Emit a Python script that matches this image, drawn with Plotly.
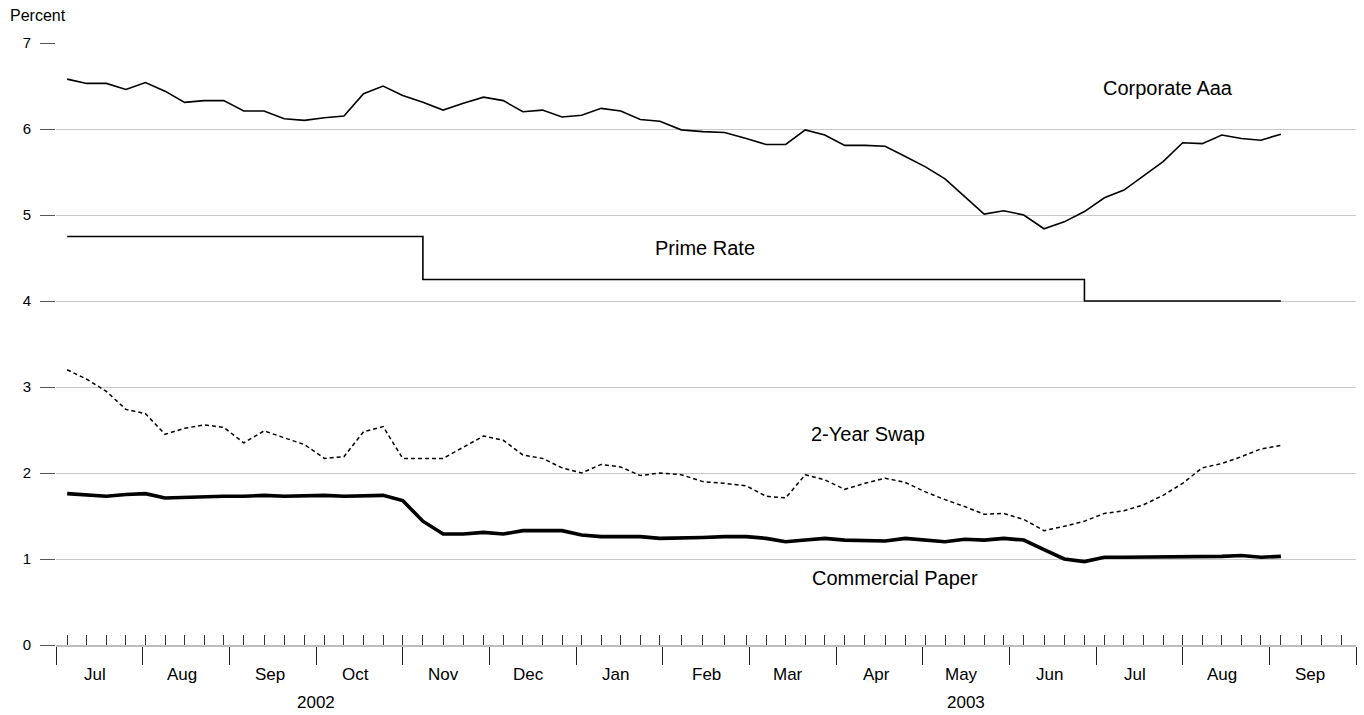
import calendar
import pandas as pd
import plotly.graph_objects as go

# ---------------- data ----------------
week_ends = pd.date_range("2002-07-05", "2003-09-05", freq="W-FRI")

corporate_aaa = [
    6.58, 6.53, 6.53, 6.46,
    6.54, 6.44, 6.31, 6.33, 6.33,
    6.21, 6.21, 6.12, 6.10,
    6.13, 6.15, 6.41, 6.50,
    6.39, 6.31, 6.22, 6.30, 6.37,
    6.33, 6.20, 6.22, 6.14,
    6.16, 6.24, 6.21, 6.11, 6.09,
    5.99, 5.97, 5.96, 5.89,
    5.82, 5.82, 5.99, 5.93,
    5.81, 5.81, 5.80, 5.68,
    5.56, 5.42, 5.22, 5.01, 5.05,
    5.00, 4.84, 4.92, 5.04,
    5.20, 5.29, 5.45, 5.62,
    5.84, 5.83, 5.93, 5.89, 5.87,
    5.94,
]

prime_rate = [
    4.75, 4.75, 4.75, 4.75,
    4.75, 4.75, 4.75, 4.75, 4.75,
    4.75, 4.75, 4.75, 4.75,
    4.75, 4.75, 4.75, 4.75,
    4.75, 4.25, 4.25, 4.25, 4.25,
    4.25, 4.25, 4.25, 4.25,
    4.25, 4.25, 4.25, 4.25, 4.25,
    4.25, 4.25, 4.25, 4.25,
    4.25, 4.25, 4.25, 4.25,
    4.25, 4.25, 4.25, 4.25,
    4.25, 4.25, 4.25, 4.25, 4.25,
    4.25, 4.25, 4.25, 4.00,
    4.00, 4.00, 4.00, 4.00,
    4.00, 4.00, 4.00, 4.00, 4.00,
    4.00,
]

swap_2yr = [
    3.20, 3.09, 2.95, 2.74,
    2.69, 2.45, 2.52, 2.56, 2.53,
    2.35, 2.49, 2.41, 2.33,
    2.17, 2.19, 2.48, 2.54,
    2.17, 2.17, 2.17, 2.30, 2.43,
    2.38, 2.21, 2.17, 2.06,
    2.00, 2.10, 2.07, 1.97, 2.00,
    1.98, 1.90, 1.88, 1.85,
    1.73, 1.71, 1.98, 1.92,
    1.81, 1.88, 1.94, 1.89,
    1.78, 1.69, 1.61, 1.52, 1.53,
    1.46, 1.33, 1.38, 1.44,
    1.53, 1.56, 1.63, 1.74,
    1.88, 2.06, 2.11, 2.19, 2.28,
    2.32,
]

commercial_paper = [
    1.76, 1.75, 1.73, 1.75,
    1.76, 1.71, 1.72, 1.73, 1.73,
    1.73, 1.74, 1.73, 1.74,
    1.74, 1.73, 1.73, 1.74,
    1.68, 1.44, 1.29, 1.29, 1.31,
    1.29, 1.33, 1.33, 1.33,
    1.28, 1.26, 1.26, 1.26, 1.24,
    1.24, 1.25, 1.26, 1.26,
    1.24, 1.20, 1.22, 1.24,
    1.22, 1.22, 1.21, 1.24,
    1.22, 1.20, 1.23, 1.22, 1.24,
    1.22, 1.11, 1.00, 0.97,
    1.02, 1.02, 1.02, 1.02,
    1.02, 1.03, 1.03, 1.04, 1.02,
    1.03,
]

month_labels = ["Jul", "Aug", "Sep", "Oct", "Nov", "Dec",
                "Jan", "Feb", "Mar", "Apr", "May", "Jun", "Jul", "Aug", "Sep"]
month_starts = pd.date_range("2002-07-01", "2003-10-01", freq="MS")
year_labels = ["2002", "2003"]
y_ticks = [0, 1, 2, 3, 4, 5, 6, 7]

# ------------- month-uniform time scale -------------
START_YEAR, START_MONTH = 2002, 7


def month_pos(d):
    d = pd.Timestamp(d)
    ndays = calendar.monthrange(d.year, d.month)[1]
    return (d.year - START_YEAR) * 12 + (d.month - START_MONTH) + (d.day - 1) / ndays


x = [month_pos(d) for d in week_ends]
minor_fridays = pd.date_range("2002-07-05", "2003-09-26", freq="W-FRI")
minor_vals = [month_pos(d) for d in minor_fridays]
major_vals = [month_pos(d) for d in month_starts]
label_pos = [month_pos(d + pd.Timedelta(days=14)) for d in month_starts[:-1]]

FONT = "Liberation Sans, Arial, Helvetica, sans-serif"
INK = "#000000"
GRID = "#c8c8c8"

fig = go.Figure()
fig.add_trace(go.Scatter(x=x, y=corporate_aaa, mode="lines", name="Corporate Aaa",
                         line=dict(color=INK, width=1.6)))
fig.add_trace(go.Scatter(x=x, y=prime_rate, mode="lines", name="Prime Rate",
                         line=dict(color=INK, width=1.6, shape="hv")))
fig.add_trace(go.Scatter(x=x, y=swap_2yr, mode="lines", name="2-Year Swap",
                         line=dict(color=INK, width=1.5, dash="4px,3px")))
fig.add_trace(go.Scatter(x=x, y=commercial_paper, mode="lines", name="Commercial Paper",
                         line=dict(color=INK, width=3.6)))

annotations = []
for pos, lab in zip(label_pos, month_labels):
    annotations.append(dict(x=pos, y=-0.0498, xref="x", yref="paper", text=lab,
                            showarrow=False, xanchor="center", yanchor="middle",
                            font=dict(size=17, color=INK, family=FONT)))
annotations.append(dict(x=3, y=-0.0963, xref="x", yref="paper", text=year_labels[0],
                        showarrow=False, xanchor="center", yanchor="middle",
                        font=dict(size=17, color=INK, family=FONT)))
annotations.append(dict(x=10.5, y=-0.0963, xref="x", yref="paper", text=year_labels[1],
                        showarrow=False, xanchor="center", yanchor="middle",
                        font=dict(size=17, color=INK, family=FONT)))
annotations.append(dict(x=-0.0369, y=1.0465, xref="paper", yref="paper", text="Percent",
                        showarrow=False, xanchor="left", yanchor="middle",
                        font=dict(size=16, color=INK, family=FONT)))

series_labels = [
    ("Corporate Aaa", 12.83, 6.48),
    ("Prime Rate", 7.49, 4.62),
    ("2-Year Swap", 9.37, 2.45),
    ("Commercial Paper", 9.68, 0.78),
]
for txt, lx, ly in series_labels:
    annotations.append(dict(x=lx, y=ly, xref="x", yref="y", text=txt, showarrow=False,
                            xanchor="center", yanchor="middle",
                            font=dict(size=20, color=INK, family=FONT)))

fig.update_layout(
    width=1364, height=715,
    margin=dict(l=56, r=8, t=43, b=70),
    paper_bgcolor="white", plot_bgcolor="white",
    showlegend=False,
    font=dict(family=FONT, size=15, color=INK),
    annotations=annotations,
    xaxis=dict(
        range=[0, 15], tickmode="array", tickvals=major_vals, showticklabels=False,
        ticks="outside", ticklen=18, tickwidth=1, tickcolor="#222222",
        showgrid=False, zeroline=False,
        showline=True, linecolor="#bdbdbd", linewidth=1.5,
        minor=dict(tickmode="array", tickvals=minor_vals, ticks="inside",
                   ticklen=10, tickwidth=1, tickcolor="#333333", showgrid=False),
    ),
    yaxis=dict(
        range=[0, 7], tickmode="array", tickvals=y_ticks,
        ticks="outside", ticklen=15, tickwidth=1, tickcolor="#555555",
        showgrid=True, gridcolor=GRID, gridwidth=1, zeroline=False,
        showline=False, ticklabelstandoff=6,
        tickfont=dict(size=15, color=INK, family=FONT),
    ),
)

fig.write_html(
    "out.html",
    config={"displayModeBar": False, "staticPlot": True},
    post_script="document.body.style.margin='0px';document.body.style.overflow='hidden';",
)
